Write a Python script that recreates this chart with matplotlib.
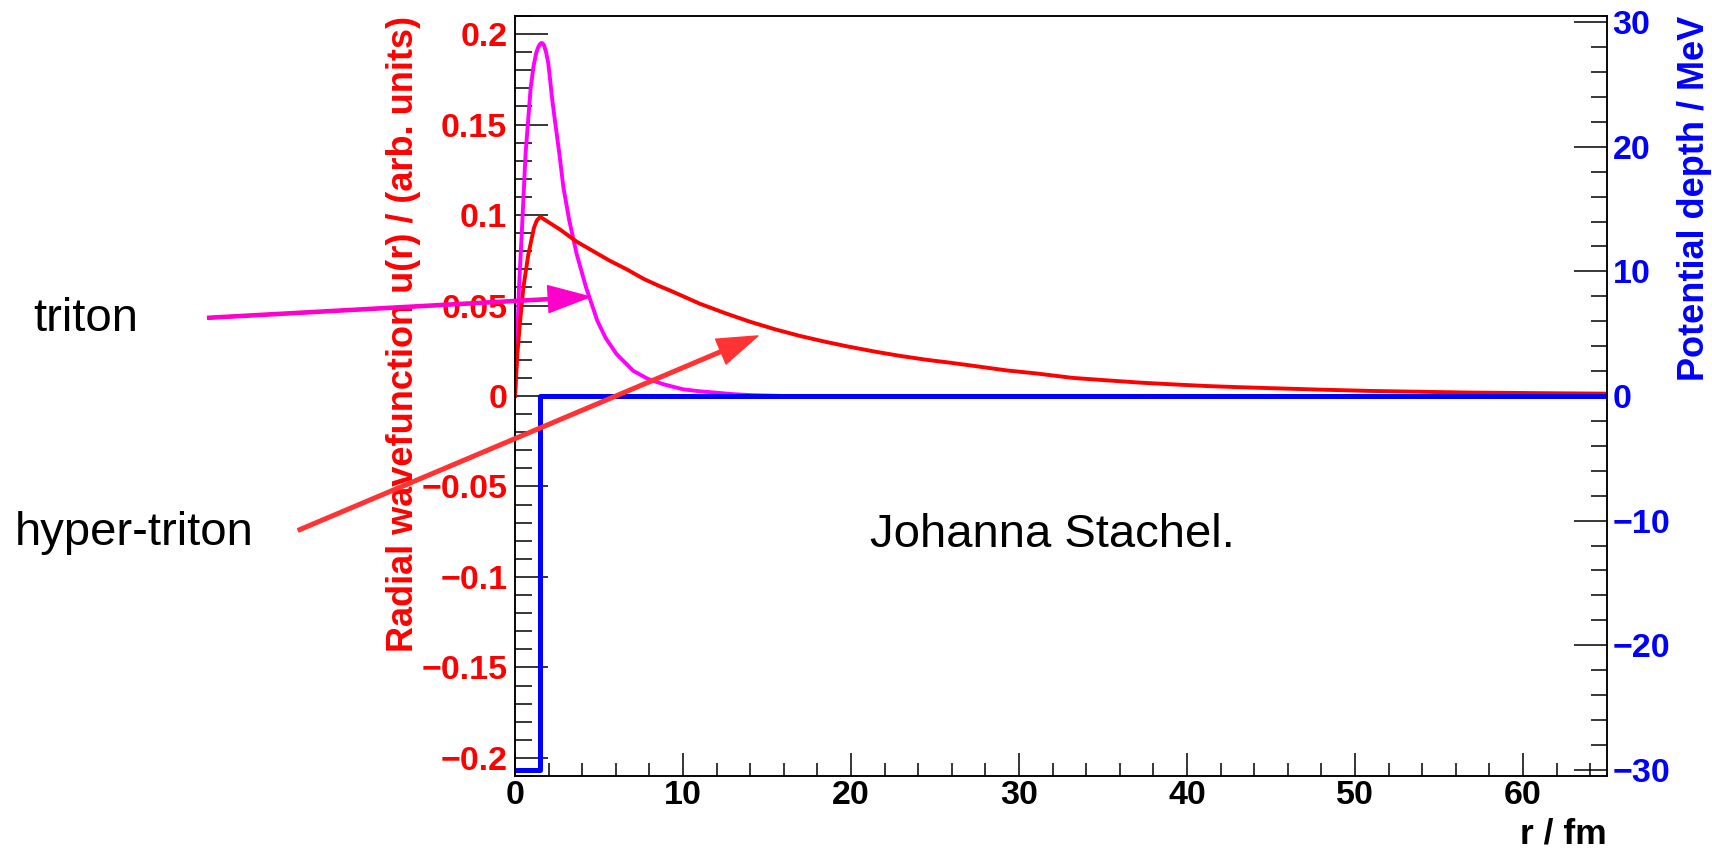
import matplotlib
matplotlib.use("Agg")
import matplotlib.pyplot as plt
from matplotlib.ticker import MultipleLocator, FixedLocator, FixedFormatter

plt.rcParams['font.family'] = ['Liberation Sans', 'DejaVu Sans']
plt.rcParams['font.weight'] = 'bold'
plt.rcParams['axes.labelweight'] = 'bold'

# hyper-triton radial wavefunction u(r)
hyper_r = [0, 0.14, 0.3, 0.5, 0.79, 1.13, 1.3, 1.5, 2.68, 3.67, 4.66, 5.65, 6.65, 7.64, 8.63,
           9.23, 11.0, 12.5, 14.0, 15.5, 17.0, 18.5, 19.9, 21.5, 22.9, 24.5, 25.9, 27.5,
           29.3, 31.0, 33.2, 35.0, 37.2, 39.0, 41.2, 43.0, 45.1, 48.0, 50.9, 53.5, 56.8,
           59.5, 62.0, 65.0]
hyper_u = [0, 0.023, 0.041, 0.060, 0.078, 0.093, 0.097, 0.099, 0.092, 0.0853, 0.080, 0.0747,
           0.070, 0.0648, 0.0606, 0.0583, 0.051, 0.0458, 0.041, 0.0368, 0.0331, 0.0299,
           0.0272, 0.0244, 0.0222, 0.0200, 0.0184, 0.0164, 0.0141, 0.0125, 0.0100, 0.0088,
           0.0074, 0.0065, 0.0055, 0.0049, 0.0043, 0.0035, 0.0028, 0.0024, 0.0019, 0.0017,
           0.0015, 0.0013]

# triton radial wavefunction u(r)
triton_r = [0, 0.1, 0.24, 0.44, 0.63, 0.93, 1.1, 1.25, 1.35, 1.45, 1.55, 1.63, 1.72, 1.85,
            1.98, 2.1, 2.2, 2.38, 2.64, 2.88, 3.23, 3.67, 4.23, 4.9, 5.4, 6.05, 7.04, 7.9,
            8.83, 10.0, 11.0, 12.0, 13.0, 14.0, 16.0]
triton_u = [0, 0.023, 0.060, 0.097, 0.134, 0.170, 0.182, 0.189, 0.192, 0.194, 0.195, 0.195,
            0.194, 0.190, 0.184, 0.174, 0.165, 0.152, 0.134, 0.1154, 0.097, 0.0785, 0.060,
            0.0416, 0.032, 0.0231, 0.0139, 0.0095, 0.0065, 0.0037, 0.0026, 0.0018, 0.0010,
            0.0005, 0.0]

# square well potential (MeV)
pot_r = [0, 1.5, 65]
pot_v = [-30, 0, 0]

x_ticks = [0, 10, 20, 30, 40, 50, 60]
x_labels = ['0', '10', '20', '30', '40', '50', '60']
u_ticks = [-0.2, -0.15, -0.1, -0.05, 0, 0.05, 0.1, 0.15, 0.2]
u_labels = ['\u22120.2', '\u22120.15', '\u22120.1', '\u22120.05', '0', '0.05', '0.1', '0.15', '0.2']
v_ticks = [-30, -20, -10, 0, 10, 20, 30]
v_labels = ['\u221230', '\u221220', '\u221210', '0', '10', '20', '30']

fig = plt.figure(figsize=(17.12, 8.5), dpi=100)
ax = fig.add_axes([515 / 1712, 1 - 776 / 850, 1092 / 1712, 760 / 850])
ax2 = ax.twinx()

ax.plot(triton_r, triton_u, color='#ff00ff', lw=2.8, solid_joinstyle='round')
ax.plot(hyper_r, hyper_u, color='#ff0000', lw=2.8, solid_joinstyle='round')
ax2.plot(pot_r, pot_v, color='#0000ff', lw=3.6, drawstyle='steps-post')

ax.set_xlim(0, 65)
ax.set_ylim(-0.21, 0.21)
ax2.set_ylim(-30.5, 30.5)

for sp in ax.spines.values():
    sp.set_linewidth(1.1)
for sp in ax2.spines.values():
    sp.set_linewidth(1.1)

ax.xaxis.set_major_locator(FixedLocator(x_ticks))
ax.xaxis.set_major_formatter(FixedFormatter(x_labels))
ax.xaxis.set_minor_locator(MultipleLocator(2))
ax.yaxis.set_major_locator(FixedLocator(u_ticks))
ax.yaxis.set_major_formatter(FixedFormatter(u_labels))
ax.yaxis.set_minor_locator(MultipleLocator(0.01))
ax2.yaxis.set_major_locator(FixedLocator(v_ticks))
ax2.yaxis.set_major_formatter(FixedFormatter(v_labels))
ax2.yaxis.set_minor_locator(MultipleLocator(2))

ax.tick_params(which='both', direction='in', top=False, right=False, width=1.1)
ax.tick_params(axis='x', which='major', length=16.8, labelsize=24.5, pad=3)
ax.tick_params(axis='x', which='minor', length=9.4)
ax.tick_params(axis='y', which='major', length=23.8, labelsize=24.5, labelcolor='#ff0000', pad=5.5)
ax.tick_params(axis='y', which='minor', length=12.2)
ax2.tick_params(which='both', direction='in', width=1.1)
ax2.tick_params(axis='y', which='major', length=23.8, labelsize=24.5, labelcolor='#0000ff', pad=4)
ax2.tick_params(axis='y', which='minor', length=11.8)

ax.set_xlabel('r / fm', fontsize=25.5, fontweight='bold', loc='right')
ax.xaxis.set_label_coords(1.0, -0.055)
ax.set_ylabel('Radial wavefunction u(r) / (arb. units)', fontsize=26, fontweight='bold',
              color='#ff0000', loc='top')
ax.yaxis.set_label_coords(-0.0862, 1.0)
ax2.set_ylabel('Potential depth / MeV', fontsize=26, fontweight='bold', color='#0000ff', loc='top')
ax2.yaxis.set_label_coords(1.064, 1.0)

# arrows pointing at the two wavefunctions
ax2.annotate('', xy=(4.46, 0.0548), xytext=(-18.3, 0.0432),
             xycoords=ax.transData, textcoords=ax.transData, annotation_clip=False,
             arrowprops=dict(color='#ff00cc', width=2.3, headwidth=19.4, headlength=30, shrink=0))
ax2.annotate('', xy=(14.46, 0.0332), xytext=(-12.9, -0.0742),
             xycoords=ax.transData, textcoords=ax.transData, annotation_clip=False,
             arrowprops=dict(color='#ff3333', width=2.6, headwidth=19.4, headlength=29, shrink=0))

fig.text(33 / 1712, 1 - 331 / 850, 'triton', fontsize=34, fontweight='normal', va='baseline')
fig.text(15 / 1712, 1 - 545 / 850, 'hyper-triton', fontsize=34, fontweight='normal', va='baseline')
fig.text(870 / 1712, 1 - 547 / 850, 'Johanna Stachel.', fontsize=34, fontweight='normal', va='baseline')

fig.savefig('out.png', dpi=100)
